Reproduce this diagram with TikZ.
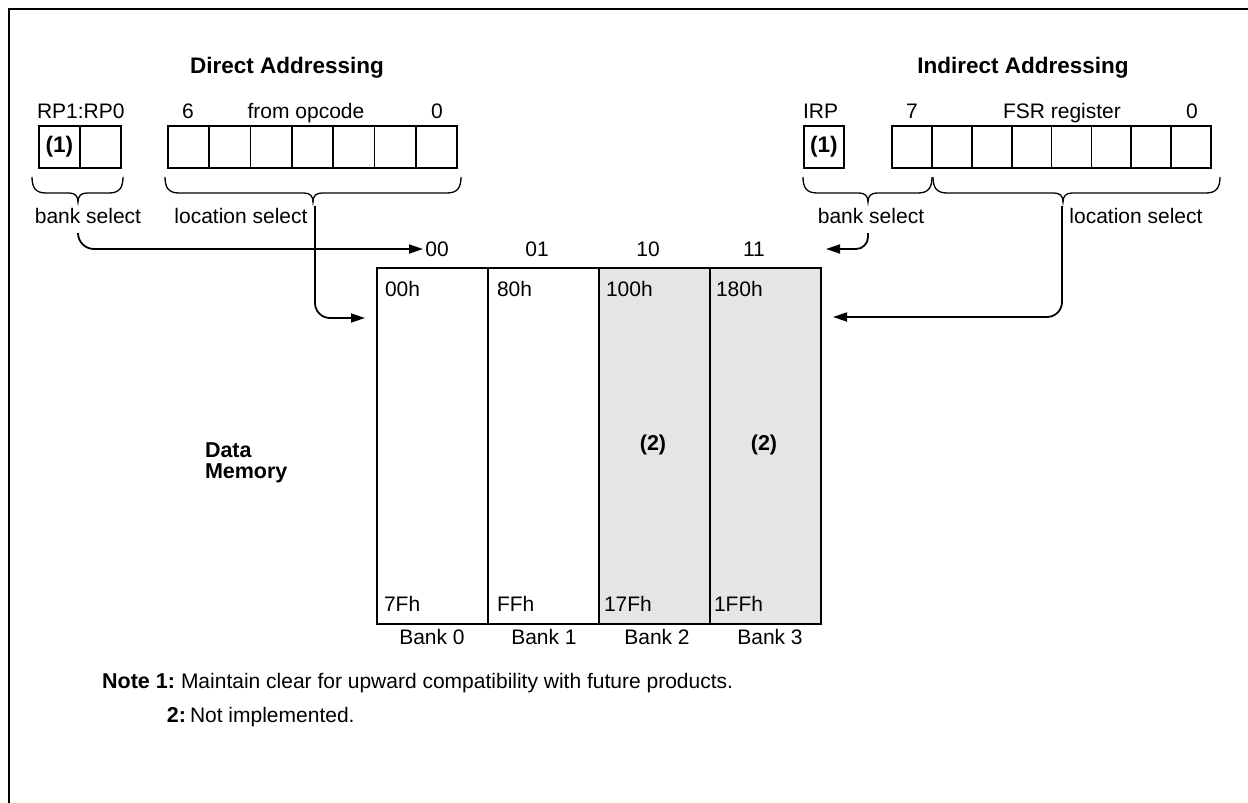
\documentclass[tikz,border=0pt]{standalone}
\usepackage{fontspec}
\setmainfont{Liberation Sans}
\usetikzlibrary{arrows.meta}
\definecolor{memgray}{RGB}{229,229,229}
\begin{document}
\begin{tikzpicture}[x=1pt,y=-1pt,
  txt/.style={font=\fontsize{21}{25}\selectfont, inner sep=0pt, outer sep=0pt},
  btxt/.style={font=\fontsize{21.5}{25}\selectfont\bfseries, inner sep=0pt, outer sep=0pt},
  ttl/.style={font=\fontsize{22.5}{27}\selectfont\bfseries, inner sep=0pt},
  regcell/.style={draw, line width=1.8pt, minimum height=42pt, inner sep=0pt, anchor=north west},
  bankcol/.style={draw, line width=2pt, minimum width=111pt, minimum height=356pt, inner sep=0pt, anchor=north west},
  brace/.style={line width=1.3pt},
  conn/.style={line width=1.8pt, -{Triangle[length=14pt,width=9pt]}},
]
\useasboundingbox (0,0) rectangle (1248,803);
% frame
\draw[line width=2.2pt] (1250,9) -- (9,9) -- (9,805);

% titles
\node[ttl, anchor=base] (tdir) at (287,73) {Direct Addressing};
\node[ttl, anchor=base] (tind) at (1023,73) {Indirect Addressing};

% register labels
\node[txt, anchor=base west] (lrp) at (37,118) {RP1:RP0};
\node[txt, anchor=base] (l6) at (188,118) {6};
\node[txt, anchor=base] (lop) at (306,118) {from opcode};
\node[txt, anchor=base] (l0a) at (437,118) {0};
\node[txt, anchor=base west] (lirp) at (803,118) {IRP};
\node[txt, anchor=base] (l7) at (912,118) {7};
\node[txt, anchor=base] (lfsr) at (1062,118) {FSR register};
\node[txt, anchor=base] (l0b) at (1192,118) {0};

% registers
\node[regcell, minimum width=41pt] (rp1) at (38,125) {\bfseries\fontsize{22.5}{26}\selectfont (1)};
\node[regcell, minimum width=41pt] (rp0) at (79,125) {};
\foreach \i in {0,...,6} \node[regcell, minimum width=41.3pt] (op\i) at ({167+41.3*\i},125) {};
\node[regcell, minimum width=40pt] (irp) at (803,125) {\bfseries\fontsize{22.5}{26}\selectfont (1)};
\foreach \i in {0,...,7} \node[regcell, minimum width=39.9pt] (fsr\i) at ({891+39.9*\i},125) {};

% braces
\foreach \a/\b/\t in {32/123/78, 165/461/313, 803/932/868, 933/1220/1063} {
  \draw[brace] (\a,177) .. controls (\a,188) and ({\a+4},193) .. ({\a+14},193)
    -- ({\t-9},193) .. controls ({\t-3},193) and (\t,196) .. (\t,202)
    .. controls (\t,196) and ({\t+3},193) .. ({\t+9},193)
    -- ({\b-14},193) .. controls ({\b-4},193) and (\b,188) .. (\b,177);
}

% brace labels
\node[txt, anchor=base] (bsL) at (88,223) {bank select};
\node[txt, anchor=base] (lsL) at (241,223) {location select};
\node[txt, anchor=base] (bsR) at (871,223) {bank select};
\node[txt, anchor=base] (lsR) at (1136,223) {location select};

% memory banks
\node[bankcol] (bk0) at (376,267) {};
\node[bankcol] (bk1) at (487,267) {};
\node[bankcol, fill=memgray] (bk2) at (598,267) {};
\node[bankcol, fill=memgray] (bk3) at (709,267) {};

% bank select values
\node[txt] (s00) at (437,249) {00};
\node[txt] (s01) at (537,249) {01};
\node[txt] (s10) at (648,249) {10};
\node[txt] (s11) at (754,249) {11};

% addresses
\node[txt, anchor=base west] (a0) at (385,296) {00h};
\node[txt, anchor=base west] (a1) at (497,296) {80h};
\node[txt, anchor=base west] (a2) at (606,296) {100h};
\node[txt, anchor=base west] (a3) at (716,296) {180h};
\node[txt, anchor=base west] (e0) at (384,611) {7Fh};
\node[txt, anchor=base west] (e1) at (497,611) {FFh};
\node[txt, anchor=base west] (e2) at (604,611) {17Fh};
\node[txt, anchor=base west] (e3) at (714,611) {1FFh};

% not implemented marks
\node[btxt] (n2) at (653,445) {(2)};
\node[btxt] (n3) at (764,445) {(2)};

% bank names
\node[txt, anchor=base] (bn0) at (432,644) {Bank 0};
\node[txt, anchor=base] (bn1) at (544,644) {Bank 1};
\node[txt, anchor=base] (bn2) at (657,644) {Bank 2};
\node[txt, anchor=base] (bn3) at (770,644) {Bank 3};

% data memory
\node[btxt, anchor=base west] (dm1) at (205,457) {Data};
\node[btxt, anchor=base west] (dm2) at (205,478) {Memory};

% connectors
\coordinate (bsLs) at (78,233);
\coordinate (bsLe) at (423,249);
\coordinate (bsRs) at (868,233);
\coordinate (bsRe) at (826,249);
\coordinate (lsLs) at (315,206);
\coordinate (lsRs) at (1062,206);
\coordinate (yA) at (0,318);
\coordinate (yB) at (0,317);
\draw[conn, rounded corners=16pt] (bsLs) |- (bsLe);
\draw[conn, rounded corners=12pt] (bsRs) |- (bsRe);
\draw[conn, rounded corners=15pt, shorten >=11pt] (lsLs) |- (bk0.west |- yA);
\draw[conn, rounded corners=15pt, shorten >=11pt] (lsRs) |- (bk3.east |- yB);

% notes
\node[btxt, anchor=base east] (nt1) at (175,688) {Note 1:};
\node[txt, anchor=base west] (nt1t) at (181,688) {Maintain clear for upward compatibility with future products.};
\node[btxt, anchor=base east] (nt2) at (186,722) {2:};
\node[txt, anchor=base west] (nt2t) at (190,722) {Not implemented.};
\end{tikzpicture}
\end{document}
